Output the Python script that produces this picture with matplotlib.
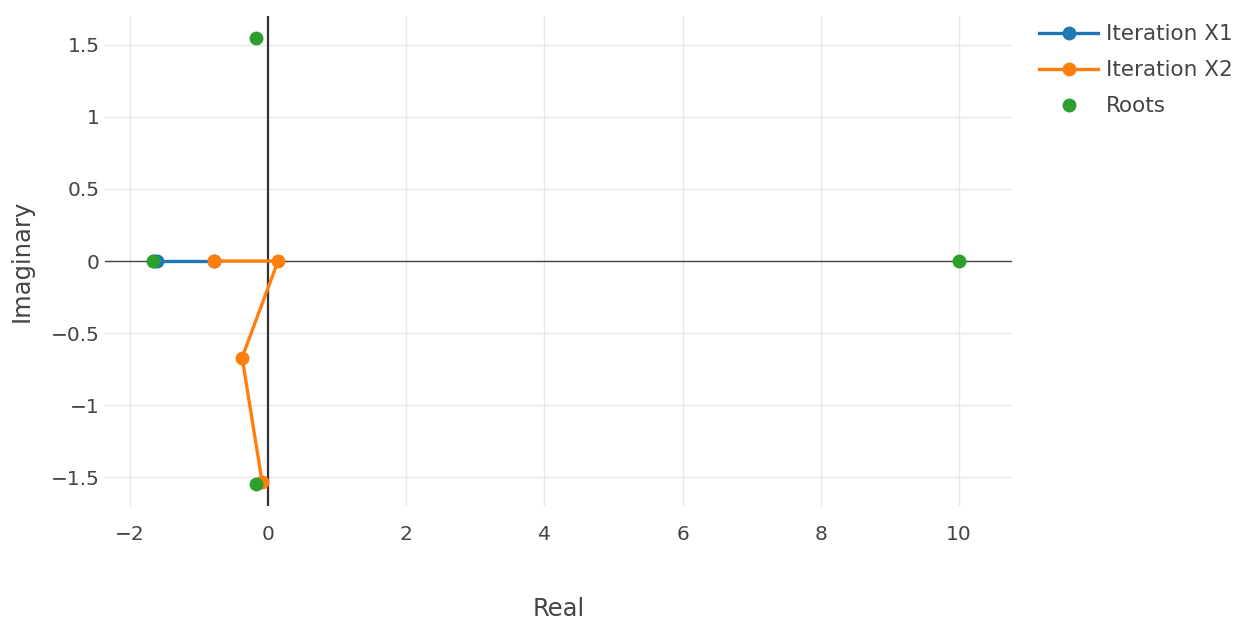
import matplotlib
matplotlib.use("Agg")
import matplotlib.pyplot as plt

# Iteration paths in the complex plane
x1_real = [-0.78, -1.60, -1.65]
x1_imag = [0.0, 0.0, 0.0]

x2_real = [-0.78, 0.145, -0.375, -0.085]
x2_imag = [0.0, 0.0, -0.67, -1.535]

# Polynomial roots
roots_real = [-1.66, -0.17, -0.17, 10.0]
roots_imag = [0.0, 1.55, -1.55, 0.0]

x_ticks = [-2, 0, 2, 4, 6, 8, 10]
y_ticks = [-1.5, -1, -0.5, 0, 0.5, 1, 1.5]
y_tick_labels = ["\u22121.5", "\u22121", "\u22120.5", "0", "0.5", "1", "1.5"]
x_tick_labels = ["\u22122", "0", "2", "4", "6", "8", "10"]

plt.rcParams["font.family"] = ["DejaVu Sans"]

fig = plt.figure(figsize=(12.42, 6.2), dpi=100)
ax = fig.add_axes([0.0845, 0.184, 0.7305, 0.79])

ax.plot(x1_real, x1_imag, color="#1f77b4", lw=2.4, marker="o", ms=9,
        label="Iteration X1", zorder=3)
ax.plot(x2_real, x2_imag, color="#ff7f0e", lw=2.4, marker="o", ms=9,
        label="Iteration X2", zorder=4)
ax.plot(roots_real, roots_imag, ls="none", color="#2ca02c", marker="o", ms=9,
        label="Roots", zorder=5)

ax.set_xlim(-2.36, 10.77)
ax.set_ylim(-1.70, 1.70)

ax.set_xticks(x_ticks)
ax.set_xticklabels(x_tick_labels)
ax.set_yticks(y_ticks)
ax.set_yticklabels(y_tick_labels)

ax.grid(True, color="#e8e8e8", lw=1.0, zorder=0)
ax.axvline(0, color="#333333", lw=1.6, zorder=2)
ax.axhline(0, color="#444444", lw=1.0, zorder=2)

for s in ax.spines.values():
    s.set_visible(False)
ax.tick_params(length=0, labelsize=14.5, labelcolor="#444444")
ax.tick_params(axis="x", pad=14)
ax.tick_params(axis="y", pad=4)

ax.set_xlabel("Real", fontsize=17.5, color="#444444", labelpad=38)
ax.set_ylabel("Imaginary", fontsize=17.5, color="#444444", labelpad=12)

leg = fig.legend(loc="upper left", bbox_to_anchor=(0.830, 0.9745), frameon=False,
                 borderaxespad=0, fontsize=15.5, labelcolor="#444444",
                 handlelength=2.7, handletextpad=0.37, labelspacing=0.74)

fig.savefig("out.png", dpi=100, facecolor="white")
